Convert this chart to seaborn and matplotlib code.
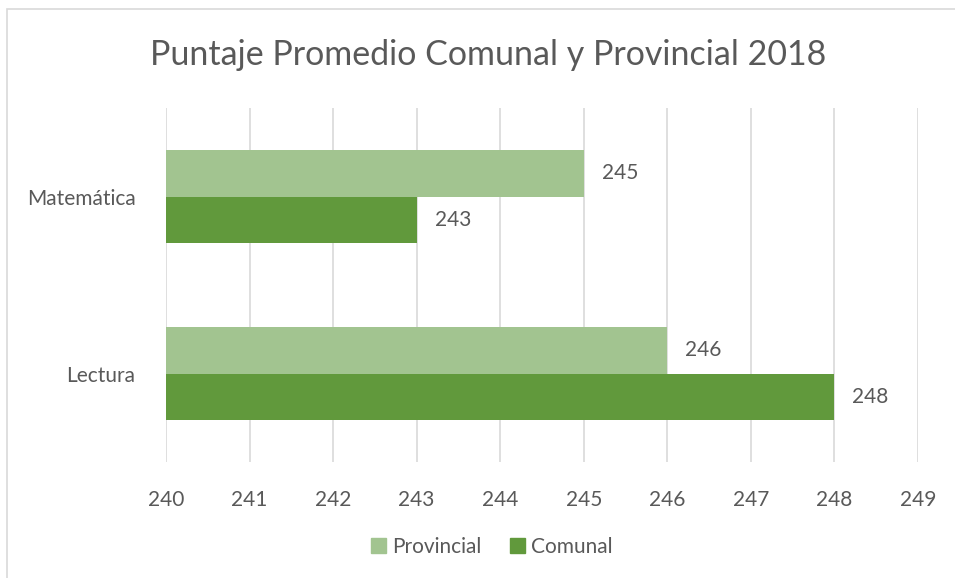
import numpy as np
import pandas as pd
import seaborn as sns
import matplotlib.pyplot as plt
from matplotlib.patches import Rectangle

# data
materias = ['Matemática', 'Lectura']
provincial = [245, 246]
comunal = [243, 248]
series = ['Provincial', 'Comunal']
colores = ['#a2c490', '#61993c']

df = pd.DataFrame({
    'materia': materias * 2,
    'serie': ['Provincial'] * len(materias) + ['Comunal'] * len(materias),
    'puntaje': provincial + comunal,
})

sns.set_theme(style='white')
plt.rcParams['font.family'] = ['Lato', 'DejaVu Sans']
txt_color = '#595959'

fig = plt.figure(figsize=(9.55, 5.78), dpi=100)
ax = fig.add_axes([166 / 955, 1 - 462 / 578, (918 - 166) / 955, (462 - 108) / 578])

sns.barplot(data=df, y='materia', x='puntaje', hue='serie', order=materias,
            hue_order=series, palette=colores, orient='h', width=0.52,
            saturation=1, ax=ax, legend=False)

ax.set_xlim(240, 249)
ax.set_xticks(range(240, 250))
ax.set_xlabel('')
ax.set_ylabel('')
for s in ax.spines.values():
    s.set_visible(False)
ax.grid(axis='x', color='#d9d9d9', linewidth=1.2)
ax.set_axisbelow(True)
ax.tick_params(axis='x', colors=txt_color, labelsize=15, length=0, pad=20)
ax.tick_params(axis='y', colors=txt_color, labelsize=15, length=0, pad=22)

# bars start from the axis edge (Excel style), lengths from the data
for cont in ax.containers:
    for bar in cont:
        val = bar.get_width() + bar.get_x()
        bar.set_x(240)
        bar.set_width(val - 240)
        bar.set_edgecolor('none')
    ax.bar_label(cont, labels=[f'{int(b.get_x() + b.get_width())}' for b in cont],
                 padding=13, fontsize=15, color=txt_color)

fig.text(488 / 955, 1 - 55 / 578, 'Puntaje Promedio Comunal y Provincial 2018',
         ha='center', va='center', fontsize=24.5, color=txt_color)

handles = [Rectangle((0, 0), 1, 1, color=c) for c in colores]
fig.legend(handles, series, loc='center', bbox_to_anchor=(492 / 955, 1 - 547 / 578),
           ncol=2, frameon=False, fontsize=15, labelcolor=txt_color,
           handlelength=0.7, handleheight=0.7, handletextpad=0.3, columnspacing=1.4)

fig.patches.append(Rectangle((7 / 955, -0.05), 1.1, 1 - 9 / 578 + 0.05, transform=fig.transFigure,
                             fill=False, edgecolor='#d9d9d9', linewidth=1.2))

fig.savefig('out.png', dpi=100, facecolor='white')
